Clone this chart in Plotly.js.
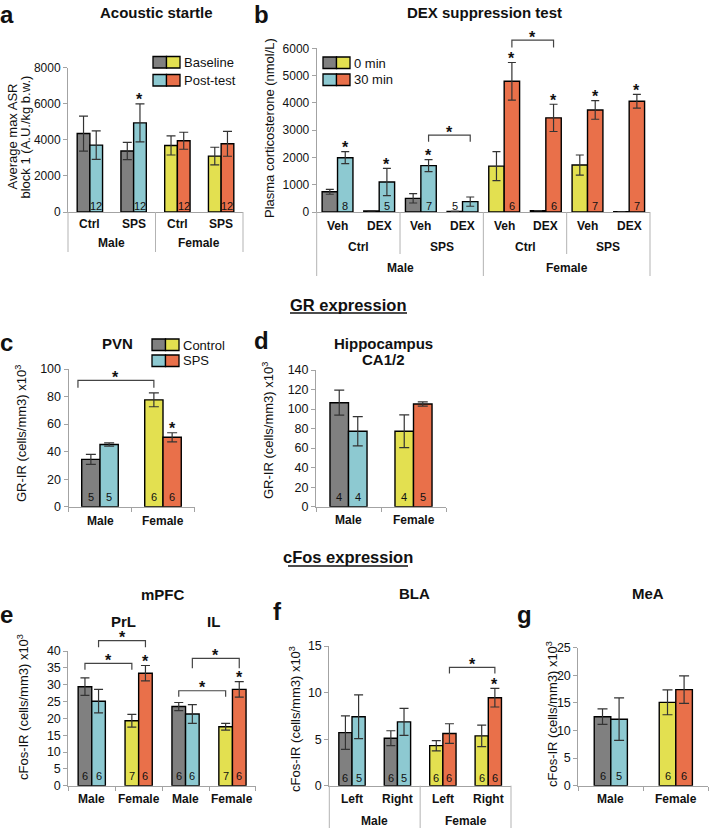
<!DOCTYPE html>
<html><head><meta charset="utf-8">
<script src="https://cdn.plot.ly/plotly-3.0.1.min.js"></script>
<style>html,body{margin:0;padding:0;background:#fff;} #chart{width:709px;height:828px;}</style>
</head><body><div id="chart"></div>
<script>
const W = 709, H = 828;
const FONT = '"Liberation Sans", Arial, sans-serif';
const GRAY = '#808080', CYAN = '#8DC9D1', YELLOW = '#E3E050', ORANGE = '#E9704A';
const AX = '#a3a3a3', INK = '#111111', BR = '#444444';

// ---------- Panel a: Acoustic startle ----------
const aCategories = ['Male Ctrl', 'Male SPS', 'Female Ctrl', 'Female SPS'];
const aTickLabels = ['Ctrl', 'SPS', 'Ctrl', 'SPS'];
const aGroupLabels = ['Male', 'Female'];
const aSex = ['M', 'M', 'F', 'F'];
const aBaseline = [4350, 3380, 3690, 3100];
const aBaselineErr = [970, 480, 530, 490];
const aPostTest = [3710, 4940, 3950, 3780];
const aPostTestErr = [790, 1050, 470, 690];
const aN1 = ['', '', '', ''];
const aN2 = ['12', '12', '12', '12'];
const aStar2 = [false, true, false, false];

// ---------- Panel b: DEX suppression test ----------
const bCategories = ['M Ctrl Veh', 'M Ctrl DEX', 'M SPS Veh', 'M SPS DEX', 'F Ctrl Veh', 'F Ctrl DEX', 'F SPS Veh', 'F SPS DEX'];
const bTickLabels = ['Veh', 'DEX', 'Veh', 'DEX', 'Veh', 'DEX', 'Veh', 'DEX'];
const bMidLabels = ['Ctrl', 'SPS', 'Ctrl', 'SPS'];
const bGroupLabels = ['Male', 'Female'];
const bSex = ['M', 'M', 'M', 'M', 'F', 'F', 'F', 'F'];
const b0min = [740, 40, 500, 20, 1680, 50, 1720, 10];
const b0minErr = [90, null, 170, null, 530, null, 370, null];
const b30min = [1990, 1100, 1700, 380, 4790, 3450, 3740, 4060];
const b30minErr = [220, 500, 220, 170, 690, 500, 340, 250];
const bN1 = ['', '', '', '5', '', '', '', ''];
const bN2 = ['8', '5', '7', '', '6', '6', '7', '7'];
const bStar2 = [true, true, true, false, true, true, true, true];

// ---------- Panel c: GR PVN ----------
const cCategories = ['Male', 'Female'];
const cTickLabels = ['Male', 'Female'];
const cSex = ['M', 'F'];
const cControl = [34.4, 77.6];
const cControlErr = [3.6, 5.0];
const cSPS = [45.2, 50.4];
const cSPSErr = [1.2, 3.3];
const cN1 = ['5', '6'];
const cN2 = ['5', '6'];
const cStar2 = [false, true];

// ---------- Panel d: GR Hippocampus CA1/2 ----------
const dCategories = ['Male', 'Female'];
const dTickLabels = ['Male', 'Female'];
const dSex = ['M', 'F'];
const dControl = [106.5, 77.2];
const dControlErr = [12.8, 16.8];
const dSPS = [77.2, 105.2];
const dSPSErr = [15.0, 2.2];
const dN1 = ['4', '4'];
const dN2 = ['4', '5'];
const dStar2 = [false, false];

// ---------- Panel e: cFos mPFC ----------
const eCategories = ['PrL Male', 'PrL Female', 'IL Male', 'IL Female'];
const eTickLabels = ['Male', 'Female', 'Male', 'Female'];
const eSex = ['M', 'F', 'M', 'F'];
const eControl = [29.4, 19.3, 23.5, 17.5];
const eControlErr = [2.6, 1.9, 1.2, 1.0];
const eSPS = [25.1, 33.4, 21.3, 28.6];
const eSPSErr = [3.5, 2.3, 2.8, 2.3];
const eN1 = ['6', '7', '6', '7'];
const eN2 = ['6', '6', '6', '6'];
const eStar2 = [false, true, false, true];

// ---------- Panel f: cFos BLA ----------
const fCategories = ['Male Left', 'Male Right', 'Female Left', 'Female Right'];
const fTickLabels = ['Left', 'Right', 'Left', 'Right'];
const fGroupLabels = ['Male', 'Female'];
const fSex = ['M', 'M', 'F', 'F'];
const fControl = [5.7, 5.1, 4.3, 5.35];
const fControlErr = [1.8, 0.8, 0.55, 1.15];
const fSPS = [7.4, 6.85, 5.6, 9.45];
const fSPSErr = [2.35, 1.45, 1.05, 1.0];
const fN1 = ['6', '6', '6', '6'];
const fN2 = ['5', '5', '6', '6'];
const fStar2 = [false, false, false, true];

// ---------- Panel g: cFos MeA ----------
const gCategories = ['Male', 'Female'];
const gTickLabels = ['Male', 'Female'];
const gSex = ['M', 'F'];
const gControl = [12.5, 15.1];
const gControlErr = [1.4, 2.25];
const gSPS = [12.05, 17.4];
const gSPSErr = [3.85, 2.5];
const gN1 = ['6', '6'];
const gN2 = ['5', '6'];
const gStar2 = [false, false];

// ---------- layout geometry (pixels) ----------
const PANELS = [
  {id:'a', ax:'',  x:[68,243],     y:[67.7,212],   yr:[0,8000], dtick:2000, w:0.29,  cap:4.5, nShift:6,   tf:12,   bTicks:false,
   cats:aCategories, labels:aTickLabels, sex:aSex, s1:aBaseline, e1:aBaselineErr, s2:aPostTest, e2:aPostTestErr, n1:aN1, n2:aN2, star:aStar2, labY:224},
  {id:'b', ax:'2', x:[316.7,650],  y:[48.3,212],   yr:[0,6000], dtick:1000, w:0.37,  cap:4,   nShift:6.5, tf:12,   bTicks:false,
   cats:bCategories, labels:bTickLabels, sex:bSex, s1:b0min, e1:b0minErr, s2:b30min, e2:b30minErr, n1:bN1, n2:bN2, star:bStar2, labY:225.7},
  {id:'c', ax:'3', x:[68.5,194.5], y:[369,506.7],  yr:[0,100],  dtick:20,   w:0.29,  cap:5,   nShift:9.5, tf:12.5, bTicks:true,
   cats:cCategories, labels:cTickLabels, sex:cSex, s1:cControl, e1:cControlErr, s2:cSPS, e2:cSPSErr, n1:cN1, n2:cN2, star:cStar2, labY:520.7},
  {id:'d', ax:'4', x:[316,446],    y:[370,506.7],  yr:[0,140],  dtick:20,   w:0.285, cap:5,   nShift:9.5, tf:12.5, bTicks:true,
   cats:dCategories, labels:dTickLabels, sex:dSex, s1:dControl, e1:dControlErr, s2:dSPS, e2:dSPSErr, n1:dN1, n2:dN2, star:dStar2, labY:520.3},
  {id:'e', ax:'5', x:[68.3,255.9], y:[651,785.7],  yr:[0,40],   dtick:5,    w:0.29,  cap:4.5, nShift:9.5, tf:12.5, bTicks:true,
   cats:eCategories, labels:eTickLabels, sex:eSex, s1:eControl, e1:eControlErr, s2:eSPS, e2:eSPSErr, n1:eN1, n2:eN2, star:eStar2, labY:799.3},
  {id:'f', ax:'6', x:[329.3,511],  y:[646,785.7],  yr:[0,15],   dtick:5,    w:0.29,  cap:4.5, nShift:7.5, tf:12.5, bTicks:false,
   cats:fCategories, labels:fTickLabels, sex:fSex, s1:fControl, e1:fControlErr, s2:fSPS, e2:fSPSErr, n1:fN1, n2:fN2, star:fStar2, labY:799.3},
  {id:'g', ax:'7', x:[578.3,708.3],y:[647.7,785.7],yr:[0,25],   dtick:5,    w:0.255, cap:5,   nShift:10,  tf:12.5, bTicks:true,
   cats:gCategories, labels:gTickLabels, sex:gSex, s1:gControl, e1:gControlErr, s2:gSPS, e2:gSPSErr, n1:gN1, n2:gN2, star:gStar2, labY:799.3}
];
const PX = {}; PANELS.forEach(p => { p.xr = [-0.5, p.cats.length - 0.5]; PX[p.id] = p; });

// pixel helpers
const pX = (id, v) => { const p = PX[id]; return p.x[0] + (v - p.xr[0]) / (p.xr[1] - p.xr[0]) * (p.x[1] - p.x[0]); };
const pY = (id, v) => { const p = PX[id]; return p.y[1] - (v - p.yr[0]) / (p.yr[1] - p.yr[0]) * (p.y[1] - p.y[0]); };
const fx = px => px / W, fy = py => 1 - py / H;
const bar = (id, cat, s) => cat + (s === 0 ? -0.5 : 0.5) * PX[id].w;

const data = [], annotations = [], shapes = [];
function txt(t, x, y, o) {
  annotations.push(Object.assign({text: t, x: fx(x), y: fy(y), xref: 'paper', yref: 'paper', showarrow: false,
    xanchor: 'center', yanchor: 'middle', font: {family: FONT, size: 12, color: INK}}, o || {}));
}
function lbl(t, x, y, size, isBold, extra) {
  txt(isBold ? '<b>' + t + '</b>' : t, x, y, Object.assign({font: {family: FONT, size: size, color: INK}}, extra || {}));
}
function line(x0, y0, x1, y1, color, width) {
  shapes.push({type: 'line', xref: 'paper', yref: 'paper', x0: fx(x0), y0: fy(y0), x1: fx(x1), y1: fy(y1), line: {color: color, width: width}});
}
function rect(x0, y0, x1, y1, fill) {
  shapes.push({type: 'rect', xref: 'paper', yref: 'paper', x0: fx(x0), y0: fy(y0), x1: fx(x1), y1: fy(y1), fillcolor: fill, line: {color: '#000', width: 1.3}});
}

const layout = {width: W, height: H, margin: {l: 0, r: 0, t: 0, b: 0}, paper_bgcolor: '#fff', plot_bgcolor: 'rgba(0,0,0,0)',
  showlegend: false, barmode: 'overlay', annotations: annotations, shapes: shapes, font: {family: FONT, color: INK}};

PANELS.forEach(p => {
  const xr = 'x' + p.ax, yr = 'y' + p.ax;
  layout['xaxis' + p.ax] = {domain: [p.x[0] / W, p.x[1] / W], range: p.xr, type: 'category', categoryorder: 'array', categoryarray: p.cats,
    anchor: yr, showline: true, linecolor: AX, linewidth: 1, showgrid: false, zeroline: false, showticklabels: false,
    ticks: p.bTicks ? 'outside' : '', tickson: 'boundaries', ticklen: 4, tickcolor: AX, fixedrange: true};
  layout['yaxis' + p.ax] = {domain: [1 - p.y[1] / H, 1 - p.y[0] / H], range: p.yr, anchor: xr, showline: true, linecolor: AX, linewidth: 1,
    ticks: 'outside', ticklen: 4, tickcolor: AX, dtick: p.dtick, tick0: 0, showgrid: false, zeroline: false,
    tickfont: {family: FONT, size: p.tf, color: INK}, fixedrange: true};
  const c1 = p.sex.map(s => s === 'M' ? GRAY : YELLOW), c2 = p.sex.map(s => s === 'M' ? CYAN : ORANGE);
  [[p.s1, p.e1, c1, -p.w], [p.s2, p.e2, c2, 0]].forEach(([vals, errs, cols, off]) => {
    data.push({type: 'bar', x: p.cats, y: vals, xaxis: xr, yaxis: yr, width: p.w, offset: off,
      marker: {color: cols, line: {color: '#000', width: 1.4}},
      error_y: {type: 'data', array: errs, visible: true, color: '#333', thickness: 1.2, width: p.cap}, hoverinfo: 'skip'});
  });
  // n labels
  [[p.n1, 0], [p.n2, 1]].forEach(([ns, s]) => ns.forEach((t, i) => {
    if (!t) return;
    annotations.push({text: t, x: bar(p.id, i, s), y: 0, xref: xr, yref: yr, yanchor: 'middle', xanchor: 'center', yshift: p.nShift,
      showarrow: false, font: {family: FONT, size: 11, color: INK}});
  }));
  // stars above bars
  p.star.forEach((on, i) => {
    if (!on) return;
    annotations.push({text: '<b>*</b>', x: bar(p.id, i, 1), y: p.s2[i] + p.e2[i], xref: xr, yref: yr, yanchor: 'middle', xanchor: 'center',
      yshift: 4, showarrow: false, font: {family: FONT, size: 16, color: INK}});
  });
  // first row category labels
  p.labels.forEach((t, i) => lbl(t, pX(p.id, i), p.labY, 12, true));
});

// hierarchical labels & separators
const SEP = '#b3b3b3';
aGroupLabels.forEach((t, k) => lbl(t, pX('a', 2 * k + 0.5), 243, 12, true));
[-0.5, 1.5, 3.5].forEach(v => line(pX('a', v), 212, pX('a', v), 252, SEP, 1));
bMidLabels.forEach((t, k) => lbl(t, pX('b', 2 * k + 0.5), 246.7, 12, true));
bGroupLabels.forEach((t, k) => lbl(t, pX('b', 4 * k + 1.5), 268.3, 12, true));
[-0.5, 3.5, 7.5].forEach(v => line(pX('b', v), 212, pX('b', v), 276, SEP, 1));
[1.5, 5.5].forEach(v => line(pX('b', v), 212, pX('b', v), 254, SEP, 1));
fGroupLabels.forEach((t, k) => lbl(t, pX('f', 2 * k + 0.5), 821, 12, true));
[-0.5, 1.5, 3.5].forEach(v => line(pX('f', v), 785.7, pX('f', v), 830, SEP, 1));

// significance brackets: [panel, x0, x1, y(level), yDrop]
const BRACKETS = [
  ['b', bar('b', 2, 1), bar('b', 3, 1), 2820, 2575],
  ['b', bar('b', 4, 1), bar('b', 5, 1), 6300, 6030],
  ['c', -0.35, bar('c', 1, 0), 91.8, 86.3],
  ['e', bar('e', 0, 0), bar('e', 1, 0), 36.3, 34.4],
  ['e', bar('e', 0, 1), bar('e', 1, 1), 43.1, 41.1],
  ['e', bar('e', 2, 0), bar('e', 3, 0), 28.2, 26.4],
  ['e', bar('e', 2, 1), bar('e', 3, 1), 37.8, 34.9],
  ['f', bar('f', 2, 1), bar('f', 3, 1), 12.7, 12.05]
];
BRACKETS.forEach(([id, x0, x1, yv, yd]) => {
  const X0 = pX(id, x0), X1 = pX(id, x1), Y = pY(id, yv), YD = pY(id, yd);
  shapes.push({type: 'path', xref: 'paper', yref: 'paper', line: {color: BR, width: 1.2},
    path: `M ${fx(X0)},${fy(YD)} L ${fx(X0)},${fy(Y)} L ${fx(X1)},${fy(Y)} L ${fx(X1)},${fy(YD)}`});
  txt('<b>*</b>', (X0 + X1) / 2, Y - 3, {font: {family: FONT, size: 16, color: INK}});
});

// panel letters
[['a', 7, 15], ['b', 261.5, 15], ['c', 6, 342], ['d', 261.5, 340], ['e', 6, 614], ['f', 277.5, 611], ['g', 524, 614]]
  .forEach(([t, x, y]) => lbl(t, x, y, 24, true));

// titles
lbl('Acoustic startle', 156, 13, 15, true);
lbl('DEX suppression test', 484.5, 13, 15, true);
lbl('PVN', 117, 343, 15, true);
lbl('Hippocampus', 383, 343, 15, true);
lbl('CA1/2', 383, 360, 15, true);
lbl('mPFC', 163, 594, 15, true);
lbl('PrL', 123, 621, 15, true);
lbl('IL', 214, 621, 15, true);
lbl('BLA', 414, 593, 15, true);
lbl('MeA', 648, 593, 15, true);
lbl('GR expression', 348, 305, 16.5, true);
line(290, 313, 407, 313, '#111', 1.5);
lbl('cFos expression', 348, 557, 16.5, true);
line(288, 566, 408, 566, '#111', 1.5);

// axis titles (rotated)
const rot = {textangle: -90};
lbl('Average max ASR', 11.5, 137, 13, false, rot);
lbl('block 1 (A.U./kg b.w.)', 24.5, 137, 13, false, rot);
lbl('Plasma corticosterone (nmol/L)', 269, 128, 13, false, rot);
lbl('GR-IR (cells/mm3) x10<sup>3</sup>', 21, 434, 13, false, rot);
lbl('GR-IR (cells/mm3) x10<sup>3</sup>', 268, 431, 13, false, rot);
lbl('cFos-IR (cells/mm3) x10<sup>3</sup>', 23, 707, 13, false, rot);
lbl('cFos-IR (cells/mm3) x10<sup>3</sup>', 295, 719, 13, false, rot);
lbl('cFos-IR (cells/mm3) x10<sup>3</sup>', 552, 714, 13, false, rot);

// custom legends
function legend(x, y1, y2, t1, t2) {
  rect(x, y1 - 6, x + 13.5, y1 + 5.5, GRAY); rect(x + 13.5, y1 - 6, x + 27, y1 + 5.5, YELLOW);
  rect(x, y2 - 6, x + 13.5, y2 + 5.5, CYAN); rect(x + 13.5, y2 - 6, x + 27, y2 + 5.5, ORANGE);
  txt(t1, x + 28.5, y1, {xanchor: 'left', font: {family: FONT, size: 13, color: INK}});
  txt(t2, x + 28.5, y2, {xanchor: 'left', font: {family: FONT, size: 13, color: INK}});
}
legend(153, 62.5, 80.5, 'Baseline', 'Post-test');
legend(323, 63, 80, '0 min', '30 min');
legend(152, 345, 361, 'Control', 'SPS');

Plotly.newPlot('chart', data, layout, {staticPlot: true});
</script></body></html>
